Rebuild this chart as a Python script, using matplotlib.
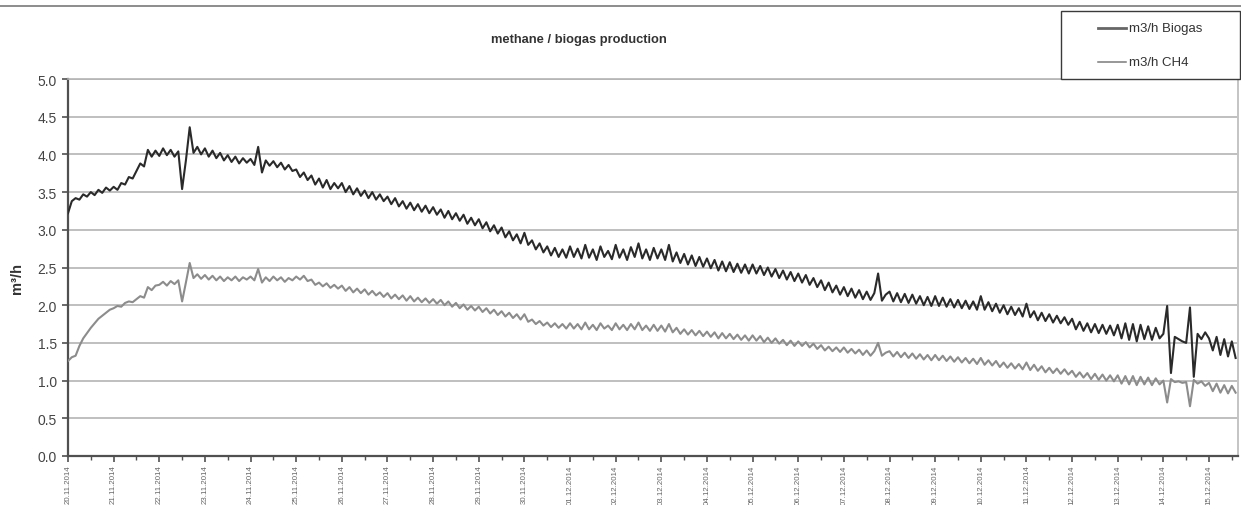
import numpy as np
import pandas as pd
import matplotlib
matplotlib.use("Agg")
import matplotlib.pyplot as plt
import matplotlib.dates as mdates
from matplotlib.patches import Rectangle
from matplotlib.lines import Line2D

plt.rcParams["font.family"] = ["Liberation Sans", "DejaVu Sans"]

# 2-hourly readings starting 20.11.2014 00:00 (one row per day)
biogas = [
    3.22, 3.38, 3.42, 3.40, 3.47, 3.44, 3.50, 3.46, 3.53, 3.49, 3.56, 3.52,   # 20.11
    3.57, 3.53, 3.62, 3.60, 3.70, 3.68, 3.78, 3.88, 3.84, 4.06, 3.97, 4.05,   # 21.11
    3.98, 4.08, 3.99, 4.06, 3.97, 4.04, 3.54, 3.92, 4.36, 4.02, 4.10, 4.00,   # 22.11
    4.08, 3.97, 4.05, 3.95, 4.02, 3.92, 3.99, 3.90, 3.97, 3.88, 3.95, 3.89,   # 23.11
    3.94, 3.86, 4.10, 3.76, 3.92, 3.85, 3.91, 3.83, 3.89, 3.80, 3.86, 3.78,   # 24.11
    3.80, 3.70, 3.76, 3.66, 3.72, 3.60, 3.68, 3.56, 3.66, 3.54, 3.62, 3.55,   # 25.11
    3.62, 3.50, 3.58, 3.47, 3.55, 3.45, 3.52, 3.42, 3.50, 3.40, 3.47, 3.38,   # 26.11
    3.44, 3.34, 3.42, 3.31, 3.38, 3.28, 3.36, 3.26, 3.34, 3.24, 3.32, 3.22,   # 27.11
    3.30, 3.20, 3.27, 3.16, 3.25, 3.14, 3.22, 3.12, 3.20, 3.08, 3.16, 3.06,   # 28.11
    3.14, 3.02, 3.10, 2.98, 3.06, 2.95, 3.03, 2.90, 2.98, 2.86, 2.94, 2.82,   # 29.11
    2.96, 2.80, 2.86, 2.74, 2.82, 2.70, 2.78, 2.66, 2.76, 2.64, 2.74, 2.63,   # 30.11
    2.78, 2.64, 2.75, 2.62, 2.80, 2.63, 2.74, 2.60, 2.78, 2.64, 2.72, 2.61,   # 01.12
    2.80, 2.63, 2.74, 2.60, 2.77, 2.64, 2.82, 2.62, 2.74, 2.60, 2.76, 2.62,   # 02.12
    2.74, 2.60, 2.80, 2.58, 2.70, 2.56, 2.68, 2.54, 2.66, 2.52, 2.64, 2.51,   # 03.12
    2.62, 2.49, 2.60, 2.46, 2.58, 2.45, 2.57, 2.44, 2.55, 2.43, 2.54, 2.42,   # 04.12
    2.54, 2.42, 2.52, 2.40, 2.50, 2.38, 2.48, 2.36, 2.46, 2.34, 2.44, 2.32,   # 05.12
    2.42, 2.30, 2.40, 2.27, 2.36, 2.24, 2.33, 2.20, 2.30, 2.17, 2.26, 2.14,   # 06.12
    2.24, 2.12, 2.22, 2.10, 2.20, 2.08, 2.18, 2.07, 2.16, 2.42, 2.06, 2.14,   # 07.12
    2.18, 2.05, 2.16, 2.04, 2.15, 2.03, 2.14, 2.02, 2.12, 2.00, 2.11, 1.99,   # 08.12
    2.12, 1.99, 2.10, 1.98, 2.08, 1.97, 2.07, 1.96, 2.06, 1.95, 2.05, 1.94,   # 09.12
    2.12, 1.94, 2.04, 1.92, 2.02, 1.90, 2.00, 1.88, 1.98, 1.87, 1.96, 1.85,   # 10.12
    2.02, 1.84, 1.92, 1.80, 1.90, 1.79, 1.88, 1.77, 1.86, 1.76, 1.84, 1.74,   # 11.12
    1.82, 1.68, 1.78, 1.66, 1.76, 1.64, 1.75, 1.63, 1.74, 1.62, 1.73, 1.60,   # 12.12
    1.74, 1.56, 1.76, 1.54, 1.75, 1.52, 1.74, 1.55, 1.72, 1.54, 1.70, 1.56,   # 13.12
    1.62, 1.99, 1.10, 1.58, 1.55, 1.52, 1.50, 1.97, 1.05, 1.62, 1.55, 1.64,   # 14.12
    1.56, 1.40, 1.58, 1.34, 1.55, 1.32, 1.52, 1.30,                           # 15.12
]

ch4 = [
    1.26, 1.31, 1.33, 1.46, 1.56, 1.63, 1.70, 1.76, 1.82, 1.86, 1.90, 1.94,   # 20.11
    1.96, 1.99, 1.98, 2.03, 2.05, 2.04, 2.08, 2.12, 2.10, 2.24, 2.20, 2.26,   # 21.11
    2.27, 2.31, 2.26, 2.32, 2.28, 2.33, 2.05, 2.30, 2.56, 2.36, 2.41, 2.35,   # 22.11
    2.40, 2.34, 2.39, 2.33, 2.38, 2.32, 2.37, 2.33, 2.38, 2.32, 2.37, 2.34,   # 23.11
    2.38, 2.33, 2.48, 2.30, 2.37, 2.32, 2.38, 2.33, 2.37, 2.31, 2.36, 2.33,   # 24.11
    2.38, 2.34, 2.39, 2.32, 2.34, 2.27, 2.30, 2.25, 2.29, 2.23, 2.27, 2.22,   # 25.11
    2.26, 2.19, 2.24, 2.17, 2.22, 2.16, 2.21, 2.14, 2.19, 2.13, 2.17, 2.11,   # 26.11
    2.16, 2.09, 2.14, 2.08, 2.13, 2.06, 2.12, 2.05, 2.10, 2.04, 2.09, 2.03,   # 27.11
    2.08, 2.02, 2.07, 2.00, 2.05, 1.98, 2.03, 1.96, 2.01, 1.94, 1.99, 1.93,   # 28.11
    1.98, 1.91, 1.96, 1.89, 1.94, 1.87, 1.92, 1.85, 1.90, 1.83, 1.88, 1.81,   # 29.11
    1.88, 1.78, 1.81, 1.75, 1.79, 1.73, 1.77, 1.71, 1.76, 1.70, 1.75, 1.69,   # 30.11
    1.76, 1.69, 1.75, 1.68, 1.77, 1.68, 1.74, 1.67, 1.76, 1.69, 1.73, 1.67,   # 01.12
    1.76, 1.68, 1.74, 1.67, 1.75, 1.68, 1.77, 1.67, 1.73, 1.66, 1.74, 1.66,   # 02.12
    1.73, 1.65, 1.75, 1.64, 1.70, 1.62, 1.68, 1.61, 1.67, 1.60, 1.66, 1.59,   # 03.12
    1.65, 1.58, 1.64, 1.56, 1.63, 1.56, 1.62, 1.55, 1.61, 1.54, 1.60, 1.53,   # 04.12
    1.60, 1.53, 1.59, 1.51, 1.57, 1.50, 1.56, 1.49, 1.54, 1.47, 1.53, 1.46,   # 05.12
    1.52, 1.46, 1.51, 1.44, 1.49, 1.42, 1.47, 1.40, 1.45, 1.39, 1.44, 1.38,   # 06.12
    1.44, 1.37, 1.42, 1.36, 1.41, 1.34, 1.40, 1.33, 1.39, 1.50, 1.33, 1.37,   # 07.12
    1.39, 1.32, 1.38, 1.31, 1.37, 1.30, 1.36, 1.29, 1.35, 1.28, 1.34, 1.27,   # 08.12
    1.34, 1.27, 1.33, 1.26, 1.32, 1.25, 1.31, 1.24, 1.30, 1.23, 1.29, 1.22,   # 09.12
    1.30, 1.21, 1.27, 1.20, 1.26, 1.18, 1.24, 1.17, 1.23, 1.16, 1.22, 1.15,   # 10.12
    1.24, 1.14, 1.21, 1.13, 1.19, 1.11, 1.17, 1.10, 1.16, 1.09, 1.15, 1.08,   # 11.12
    1.13, 1.05, 1.11, 1.04, 1.10, 1.02, 1.09, 1.01, 1.08, 1.00, 1.07, 0.99,   # 12.12
    1.07, 0.96, 1.06, 0.95, 1.06, 0.94, 1.05, 0.95, 1.04, 0.94, 1.03, 0.95,   # 13.12
    1.00, 0.71, 1.02, 0.98, 0.99, 0.97, 0.98, 0.66, 1.01, 0.96, 0.99, 0.93,   # 14.12
    0.97, 0.86, 0.96, 0.84, 0.94, 0.83, 0.93, 0.84,                           # 15.12
]

series_labels = ["m3/h Biogas", "m3/h CH4"]
title = "methane / biogas production"
y_label = "m³/h"

times = pd.date_range("2014-11-20 00:00", periods=len(biogas), freq="2h")

W, H = 1241, 506
fig = plt.figure(figsize=(W / 100, H / 100), dpi=100)
ax = fig.add_axes([68 / W, 1 - 457 / H, (1238 - 68) / W, (457 - 80) / H])

c_bio = "#2a2a2a"
c_ch4 = "#8c8c8c"
ax.plot(times, biogas, color=c_bio, lw=1.5, zorder=3)
ax.plot(times, ch4, color=c_ch4, lw=1.5, zorder=3)

ax.set_ylim(0, 5)
ax.set_yticks(np.arange(0, 5.01, 0.5))
ax.yaxis.set_major_formatter(matplotlib.ticker.FormatStrFormatter("%.1f"))
ax.set_xlim(pd.Timestamp("2014-11-20 00:00"), pd.Timestamp("2014-12-15 15:15"))

ax.xaxis.set_major_locator(mdates.DayLocator())
ax.xaxis.set_minor_locator(mdates.HourLocator(byhour=12))
ax.xaxis.set_major_formatter(mdates.DateFormatter("%d.%m.%Y"))

ax.grid(axis="y", color="#b4b4b4", lw=1.2, zorder=1)
ax.grid(axis="x", visible=False)
ax.set_axisbelow(True)

for side in ("left", "bottom"):
    ax.spines[side].set_color("#505050")
    ax.spines[side].set_linewidth(1.6)
ax.spines["top"].set_color("#b4b4b4")
ax.spines["top"].set_linewidth(1.2)
ax.spines["right"].set_color("#c4c4c4")
ax.spines["right"].set_linewidth(1.4)

ax.tick_params(axis="y", which="major", length=4, width=1.2, color="#505050",
               labelsize=10, labelcolor="#444444", pad=4)
ax.tick_params(axis="x", which="major", length=4, width=1.2, color="#505050",
               labelsize=5.7, labelcolor="#666666", pad=2, labelrotation=90)
ax.tick_params(axis="x", which="minor", length=3, width=1.0, color="#505050")
for lbl in ax.get_xticklabels():
    lbl.set_va("top")
    lbl.set_ha("center")

fig.text(17 / W, 1 - 279 / H, y_label, rotation=90, ha="center", va="center",
         fontsize=10.5, fontweight="bold", color="#333333")
fig.text(579 / W, 1 - 40 / H, title, ha="center", va="center",
         fontsize=9.3, fontweight="bold", color="#333333")

# outer chart border along the top
fig.add_artist(Line2D([0, 1], [1 - 7 / H, 1 - 7 / H], color="#8c8c8c", lw=1.4,
                      transform=fig.transFigure))

# legend box
fig.add_artist(Rectangle((1061 / W, 1 - 80 / H), (1240 - 1061) / W, (80 - 12) / H,
                         transform=fig.transFigure, facecolor="white",
                         edgecolor="#3a3a3a", lw=1.0, zorder=5))
legend_rows = [(29, "#666666", 2.0), (63, "#7a7a7a", 1.1)]
for (yy, col, lw), lab in zip(legend_rows, series_labels):
    fig.add_artist(Line2D([1098 / W, 1126 / W], [1 - yy / H, 1 - yy / H],
                          color=col, lw=lw, transform=fig.transFigure, zorder=6))
    fig.text(1129 / W, 1 - yy / H, lab, ha="left", va="center", fontsize=9.5,
             color="#333333", zorder=6)

fig.savefig("out.png", dpi=100)
